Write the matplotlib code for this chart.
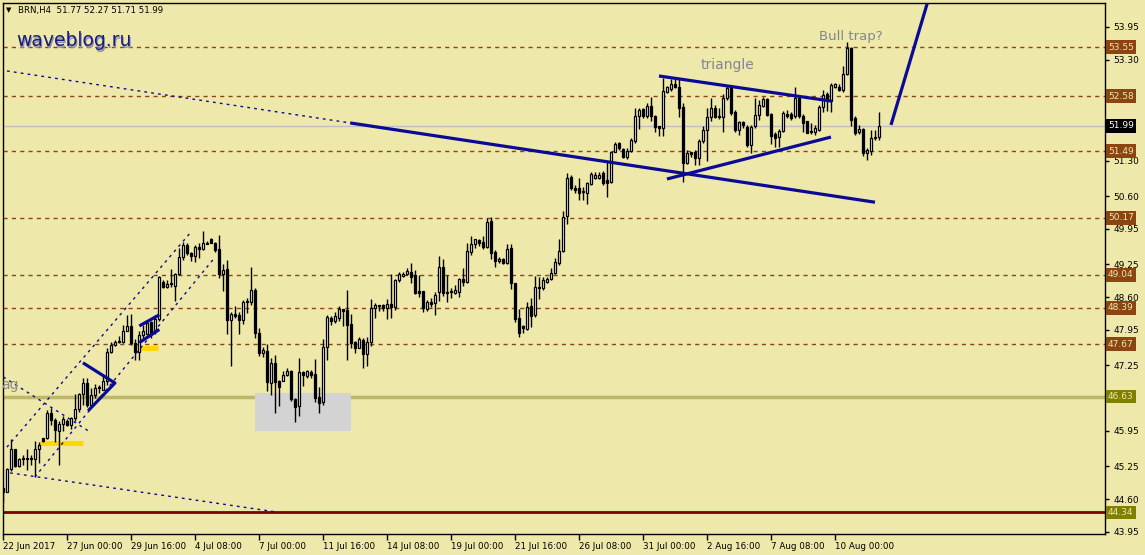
import matplotlib
matplotlib.use("Agg")
import matplotlib.pyplot as plt
from matplotlib.patches import Rectangle

# BRN H4 candles (open, high, low, close)
opens = [44.82, 44.75, 45.19, 45.59, 45.26, 45.39, 45.41, 45.40, 45.40, 45.59,
         45.81, 45.81, 46.30, 46.16, 45.94, 46.08, 46.14, 46.07, 46.20, 46.38,
         46.68, 46.90, 46.47, 46.66, 46.81, 46.76, 46.93, 47.51, 47.65, 47.71,
         47.72, 47.93, 48.03, 47.69, 47.52, 47.85, 47.88, 48.10, 47.92, 48.16,
         48.91, 48.81, 48.86, 48.83, 49.05, 49.39, 49.63, 49.47, 49.42, 49.59,
         49.55, 49.67, 49.75, 49.67, 49.55, 49.05, 49.16, 48.14, 48.26, 48.25,
         48.14, 48.53, 48.50, 48.74, 47.90, 47.50, 47.54, 46.90, 47.30, 46.94,
         46.94, 47.05, 47.13, 46.59, 46.45, 47.11, 47.03, 47.11, 47.07, 46.62,
         46.52, 47.62, 48.19, 48.13, 48.19, 48.37, 48.35, 48.06, 47.71, 47.60,
         47.75, 47.48, 47.71, 48.39, 48.45, 48.45, 48.38, 48.47, 48.41, 48.93,
         49.01, 49.05, 49.09, 49.03, 48.72, 48.72, 48.37, 48.51, 48.49, 48.71,
         49.19, 48.69, 48.71, 48.69, 48.71, 48.95, 48.91, 49.50, 49.65, 49.73,
         49.69, 49.59, 50.11, 49.50, 49.31, 49.36, 49.28, 49.57, 48.88, 48.18,
         48.03, 47.96, 48.43, 48.24, 48.81, 48.78, 48.91, 48.96, 49.07, 49.27,
         49.52, 50.20, 50.97, 50.76, 50.76, 50.69, 50.67, 50.84, 50.95, 50.95,
         51.05, 50.92, 50.89, 51.47, 51.65, 51.53, 51.38, 51.50, 51.70, 52.18,
         52.32, 52.18, 52.39, 52.19, 51.98, 51.94, 52.67, 52.72, 52.82, 52.77,
         52.37, 51.25, 51.47, 51.47, 51.35, 51.69, 51.92, 52.16, 52.35, 52.19,
         52.16, 52.54, 52.77, 52.27, 51.91, 52.06, 51.96, 51.61, 51.98, 52.21,
         52.39, 52.52, 52.23, 51.84, 51.77, 51.90, 52.23, 52.23, 52.18, 52.55,
         52.19, 52.08, 51.90, 51.87, 51.92, 52.37, 52.62, 52.49, 52.77, 52.77,
         52.70, 53.02, 53.54, 52.14, 51.87, 51.93, 51.45, 51.50, 51.76, 51.77]
highs = [44.85, 45.21, 45.79, 45.60, 45.41, 45.48, 45.59, 45.48, 45.75, 45.74,
         45.82, 46.37, 46.41, 46.21, 46.14, 46.25, 46.18, 46.22, 46.68, 46.71,
         46.99, 46.99, 46.80, 46.88, 46.86, 47.03, 47.59, 47.72, 47.75, 47.83,
         48.05, 48.25, 48.26, 47.78, 47.92, 48.05, 48.15, 48.13, 48.25, 49.01,
         48.93, 48.94, 49.15, 49.07, 49.57, 49.70, 49.67, 49.50, 49.63, 49.67,
         49.91, 49.71, 49.77, 49.69, 49.83, 49.25, 49.34, 48.31, 48.43, 48.31,
         48.55, 48.58, 49.19, 48.78, 47.98, 47.62, 47.67, 47.39, 47.46, 46.96,
         47.13, 47.19, 47.16, 46.60, 47.39, 47.14, 47.16, 47.16, 47.37, 46.83,
         47.77, 48.25, 48.23, 48.31, 48.43, 48.37, 48.74, 48.27, 47.73, 47.82,
         47.79, 47.82, 48.56, 48.48, 48.45, 48.46, 48.56, 49.06, 48.95, 49.09,
         49.09, 49.17, 49.27, 49.14, 49.04, 48.72, 48.55, 48.58, 48.70, 49.42,
         49.36, 49.04, 48.78, 48.84, 48.97, 49.17, 49.67, 49.81, 49.75, 49.75,
         49.81, 50.16, 50.18, 49.53, 49.39, 49.38, 49.65, 49.65, 48.89, 48.36,
         48.05, 48.51, 48.58, 49.01, 48.99, 48.99, 48.99, 49.17, 49.37, 49.75,
         50.31, 51.05, 51.02, 50.82, 50.95, 50.79, 50.89, 51.07, 51.07, 51.07,
         51.09, 51.28, 51.50, 51.67, 51.67, 51.56, 51.55, 51.75, 52.34, 52.34,
         52.35, 52.45, 52.56, 52.21, 51.99, 52.93, 52.79, 52.92, 52.92, 52.93,
         52.45, 51.52, 51.48, 51.52, 51.73, 51.98, 52.34, 52.55, 52.41, 52.35,
         52.62, 52.80, 52.80, 52.31, 52.09, 52.09, 52.01, 52.01, 52.54, 52.50,
         52.57, 52.54, 52.25, 51.88, 51.93, 52.29, 52.31, 52.26, 52.76, 52.57,
         52.23, 52.09, 52.04, 52.01, 52.41, 52.70, 52.67, 52.85, 52.84, 52.82,
         53.17, 53.66, 53.56, 52.18, 52.01, 51.94, 51.55, 51.91, 51.91, 52.27]
lows = [44.55, 44.74, 45.16, 45.24, 45.24, 45.28, 45.18, 45.28, 45.03, 45.31,
        45.74, 45.79, 46.07, 45.74, 45.28, 45.94, 46.04, 45.99, 46.14, 46.33,
        46.47, 46.43, 46.43, 46.60, 46.70, 46.76, 46.86, 47.49, 47.64, 47.69,
        47.69, 47.92, 47.65, 47.36, 47.36, 47.79, 47.85, 47.79, 47.88, 48.12,
        48.78, 48.78, 48.81, 48.53, 49.04, 49.34, 49.43, 49.32, 49.30, 49.37,
        49.54, 49.65, 49.67, 49.50, 48.97, 48.73, 47.87, 47.24, 48.18, 47.87,
        48.07, 48.28, 48.45, 47.79, 47.44, 47.41, 46.75, 46.66, 46.30, 46.45,
        46.93, 47.03, 46.55, 46.12, 46.25, 46.85, 46.99, 46.99, 46.53, 46.31,
        46.47, 47.36, 48.05, 48.08, 48.12, 48.02, 47.36, 47.59, 47.49, 47.59,
        47.19, 47.24, 47.64, 48.18, 48.33, 48.33, 48.16, 48.19, 48.35, 48.91,
        49.00, 49.03, 48.89, 48.66, 48.60, 48.31, 48.33, 48.41, 48.25, 48.53,
        48.62, 48.51, 48.59, 48.66, 48.61, 48.82, 48.89, 49.44, 49.57, 49.61,
        49.55, 49.57, 49.35, 49.20, 49.27, 49.25, 49.26, 48.76, 48.10, 47.82,
        47.90, 47.94, 48.01, 48.21, 48.56, 48.74, 48.88, 48.94, 49.05, 49.24,
        49.50, 50.05, 50.72, 50.66, 50.53, 50.53, 50.44, 50.82, 50.93, 50.93,
        50.82, 50.59, 50.86, 51.47, 51.52, 51.35, 51.34, 51.47, 51.65, 51.93,
        52.14, 52.14, 52.08, 51.88, 51.79, 51.79, 52.64, 52.68, 52.75, 52.17,
        50.89, 51.23, 51.38, 51.22, 51.22, 51.65, 51.30, 52.08, 52.14, 52.13,
        51.88, 52.50, 52.21, 51.88, 51.81, 51.94, 51.58, 51.45, 51.94, 52.11,
        52.37, 52.18, 51.63, 51.58, 51.58, 51.88, 52.15, 52.11, 52.14, 52.14,
        51.88, 51.85, 51.83, 51.81, 51.90, 52.27, 52.29, 52.27, 52.74, 52.68,
        52.67, 53.00, 51.99, 51.81, 51.83, 51.40, 51.32, 51.42, 51.71, 51.71]
closes = [44.75, 45.19, 45.59, 45.26, 45.39, 45.41, 45.40, 45.41, 45.59, 45.67,
          45.75, 46.31, 46.16, 45.96, 46.08, 46.19, 46.06, 46.20, 46.38, 46.68,
          46.90, 46.47, 46.66, 46.81, 46.80, 46.93, 47.51, 47.65, 47.71, 47.73,
          47.92, 48.03, 47.69, 47.52, 47.85, 47.92, 48.08, 47.88, 48.16, 48.99,
          48.81, 48.86, 48.86, 49.05, 49.39, 49.63, 49.47, 49.42, 49.59, 49.55,
          49.67, 49.66, 49.68, 49.54, 49.06, 49.14, 48.14, 48.26, 48.23, 48.14,
          48.50, 48.50, 48.74, 47.89, 47.49, 47.56, 46.92, 47.30, 46.92, 46.83,
          47.06, 47.13, 46.59, 46.43, 47.11, 47.06, 47.14, 47.05, 46.61, 46.50,
          47.61, 48.21, 48.13, 48.23, 48.37, 48.33, 48.05, 47.69, 47.60, 47.77,
          47.48, 47.71, 48.39, 48.45, 48.43, 48.38, 48.47, 48.41, 48.93, 49.06,
          49.06, 49.12, 48.99, 48.69, 48.69, 48.38, 48.50, 48.47, 48.64, 49.19,
          48.69, 48.71, 48.71, 48.74, 48.95, 48.90, 49.52, 49.65, 49.75, 49.68,
          49.60, 50.09, 49.48, 49.32, 49.35, 49.28, 49.55, 48.88, 48.16, 47.89,
          47.98, 48.41, 48.22, 48.81, 48.78, 48.94, 48.95, 49.07, 49.29, 49.52,
          50.18, 50.95, 50.76, 50.72, 50.67, 50.71, 50.86, 51.03, 51.02, 51.02,
          50.86, 50.86, 51.47, 51.63, 51.55, 51.38, 51.50, 51.71, 52.19, 52.31,
          52.18, 52.39, 52.18, 51.96, 51.94, 52.68, 52.76, 52.82, 52.77, 52.35,
          51.25, 51.45, 51.43, 51.35, 51.69, 51.91, 52.16, 52.35, 52.16, 52.16,
          52.54, 52.74, 52.25, 51.91, 52.06, 52.01, 51.61, 51.96, 52.21, 52.41,
          52.52, 52.21, 51.80, 51.75, 51.90, 52.24, 52.19, 52.15, 52.55, 52.19,
          52.04, 51.86, 51.87, 51.94, 52.37, 52.60, 52.50, 52.80, 52.82, 52.70,
          53.02, 53.53, 52.11, 51.86, 51.93, 51.45, 51.51, 51.76, 51.78, 51.99]

# time axis labels, one every 16 bars
time_labels = ["22 Jun 2017", "27 Jun 00:00", "29 Jun 16:00", "4 Jul 08:00",
               "7 Jul 00:00", "11 Jul 16:00", "14 Jul 08:00", "19 Jul 00:00",
               "21 Jul 16:00", "26 Jul 08:00", "31 Jul 00:00", "2 Aug 16:00",
               "7 Aug 08:00", "10 Aug 00:00"]
price_ticks = [53.95, 53.30, 51.30, 50.60, 49.95, 49.25, 48.60, 47.95,
               47.25, 45.95, 45.25, 44.60, 43.95]

# horizontal levels
dashed_levels = [53.55, 52.58, 51.49, 50.17, 49.04, 48.39, 47.67]
bid_level = 51.99
support_level = 46.63
low_level = 44.34

# hand drawn objects: (bar index, price)
trend_dotted = [(-0.8, 53.10), (86.7, 52.05)]
trend_solid = [(86.7, 52.05), (217.9, 50.48)]
channel_top = [(0.9, 45.63), (46.7, 49.87)]
channel_bottom = [(7.9, 45.04), (52.4, 49.34)]
dotted_down = [(0.0, 47.02), (21.7, 45.93)]
dotted_bottom = [(1.7, 45.12), (67.9, 44.35)]
pennant = [(19.9, 47.30), (27.9, 46.90), (21.2, 46.35)]
flag_top = [(34.0, 48.03), (39.0, 48.25)]
flag_bottom = [(34.0, 47.70), (39.0, 47.96)]
tri_top = [(163.9, 52.98), (207.2, 52.48)]
tri_bottom = [(165.9, 50.94), (206.9, 51.77)]
projection = [(221.9, 52.01), (231.2, 54.48)]
yellow_marks = [((9.2, 19.9), 45.71), ((34.2, 38.7), 47.60)]
grey_box = ((62.9, 45.95), (86.9, 46.70))

# Colors
BG = "#EEE8AA"
BROWN = "#8B4513"
NAVY = "#0A0A96"
OLIVE = "#808000"
GOLD = "#FFD700"

plt.rcParams["font.family"] = ["DejaVu Sans"]

fig = plt.figure(figsize=(11.45, 5.55), dpi=100, facecolor=BG)
ax = fig.add_axes([3 / 1145, 21 / 555, 1102 / 1145, 531 / 555], facecolor=BG)
ax.set_xlim(-0.075, 275.4)
ax.set_ylim(43.91, 54.425)

# levels
for lv in dashed_levels:
    ax.axhline(lv, color=BROWN, lw=1, ls=(0, (3, 3)), zorder=1)
ax.axhline(bid_level, color="#C0C0C0", lw=1, zorder=1)
ax.axhline(support_level, color="#BDB76B", lw=2.5, zorder=1)
ax.axhline(low_level, color="#800000", lw=2, zorder=1)

# grey box and yellow marks
(bx0, by0), (bx1, by1) = grey_box
ax.add_patch(Rectangle((bx0, by0), bx1 - bx0, by1 - by0, fc="#D3D3D3", ec="none", zorder=1.5))
for (x0, x1), y in yellow_marks:
    ax.plot([x0, x1], [y, y], color=GOLD, lw=3.5, solid_capstyle="butt", zorder=2)

# candles
n = len(closes)
idx = list(range(n))
lo_w = [min(l, o, c) for l, o, c in zip(lows, opens, closes)]
hi_w = [max(h, o, c) for h, o, c in zip(highs, opens, closes)]
ax.vlines(idx, lo_w, hi_w, color="black", lw=1, zorder=3)
bottoms = [min(o, c) for o, c in zip(opens, closes)]
heights = [max(abs(c - o), 0.012) for o, c in zip(opens, closes)]
faces = ["white" if c >= o else "black" for o, c in zip(opens, closes)]
ax.bar(idx, heights, bottom=bottoms, width=0.55, color=faces, edgecolor="black",
       linewidth=0.9, zorder=4)


def seg(points, **kw):
    xs, ys = zip(*points)
    ax.plot(xs, ys, **kw)


dots = dict(color=NAVY, lw=1, ls=(0, (2, 3)), zorder=5)
for pts in (trend_dotted, channel_top, channel_bottom, dotted_down, dotted_bottom):
    seg(pts, **dots)
thick = dict(color=NAVY, lw=2.3, zorder=5, solid_capstyle="butt")
for pts in (trend_solid, pennant, flag_top, flag_bottom, tri_top, tri_bottom, projection):
    seg(pts, **thick)

# texts
ax.text(181, 53.20, "triangle", color="#7F8791", fontsize=10, ha="center", va="center")
ax.text(211.8, 53.77, "Bull trap?", color="#7F8791", fontsize=9.5, ha="center", va="center")
fig.text(17 / 1145, 1 - 42 / 555, "waveblog.ru", color="#8A8FB0", fontsize=13.5,
         va="center", ha="left")
fig.text(16 / 1145, 1 - 41 / 555, "waveblog.ru", color="#1C1C80", fontsize=13.5,
         va="center", ha="left")
fig.text(6 / 1145, 1 - 10 / 555, "\u25BC", color="black", fontsize=5, va="center")
fig.text(18 / 1145, 1 - 10 / 555, "BRN,H4  51.77 52.27 51.71 51.99", color="black",
         fontsize=6.2, va="center")
fig.text(1 / 1145, 1 - 385 / 555, "ag", color="#8C8C8C", fontsize=10, ha="left", va="center")

# axes
for sp in ax.spines.values():
    sp.set_color("black")
    sp.set_linewidth(1)
ax.yaxis.tick_right()
ax.set_yticks(price_ticks)
ax.set_yticklabels(["%.2f" % p for p in price_ticks])
ax.tick_params(axis="y", direction="out", length=3, width=1, labelsize=6.5, pad=3)
ax.set_xticks([16 * k for k in range(len(time_labels))])
ax.set_xticklabels(time_labels, ha="left")
ax.tick_params(axis="x", direction="out", length=4, width=1, labelsize=6.3, pad=2)

# price tags on the right
tags = [(lv, BROWN, "#EEE8AA") for lv in dashed_levels]
tags += [(bid_level, "black", "white"), (support_level, OLIVE, "#EEE8AA"), (low_level, OLIVE, "#EEE8AA")]
for lv, fc, tc in tags:
    ax.text(1.0 + 3 / 1102, lv, "%.2f" % lv, transform=ax.get_yaxis_transform(),
            fontsize=6.5, color=tc, ha="left", va="center", clip_on=False, zorder=6,
            bbox=dict(boxstyle="square,pad=0.25", fc=fc, ec="none"))

fig.savefig("out.png", dpi=100, facecolor=BG)
